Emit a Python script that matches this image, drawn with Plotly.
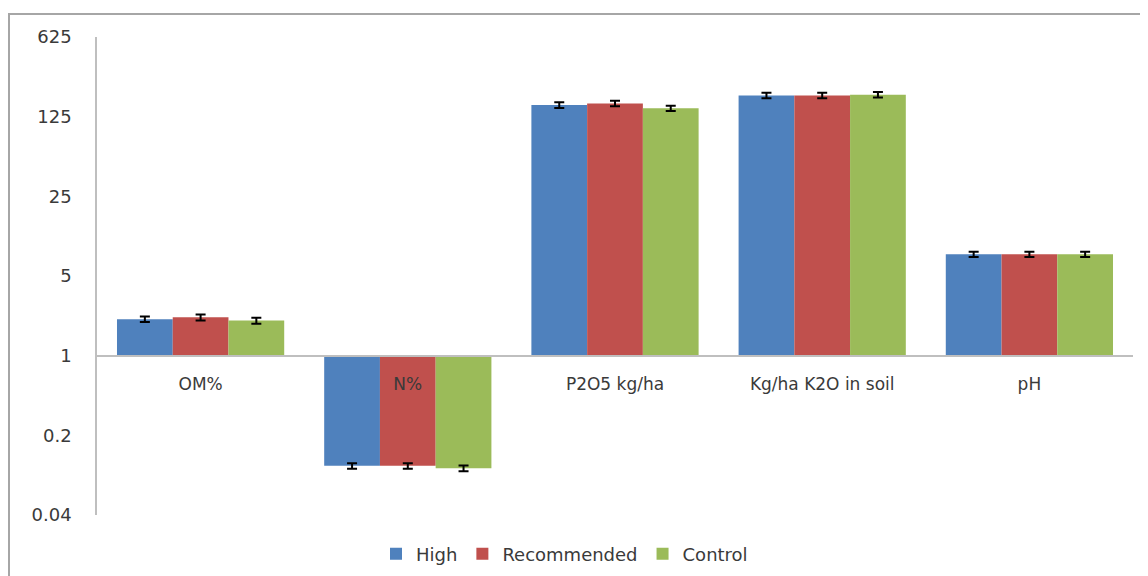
import plotly.graph_objects as go
import math

categories = ["OM%", "N%", "P2O5 kg/ha", "Kg/ha K2O in soil", "pH"]
series_names = ["High", "Recommended", "Control"]
high = [2.09, 0.108, 158, 192, 7.75]
recommended = [2.17, 0.108, 163, 192, 7.75]
control = [2.03, 0.103, 148, 195, 7.75]
high_err = [0.12, 0.006, 9, 11, 0.4]
recommended_err = [0.13, 0.006, 9, 11, 0.4]
control_err = [0.12, 0.006, 8, 11, 0.4]
colors = ["#4f81bd", "#c0504d", "#9bbb59"]
ytick_vals = [0.04, 0.2, 1, 5, 25, 125, 625]
ytick_text = ["0.04", "0.2", "1", "5", "25", "125", "625"]

BASE = 1.0
fig = go.Figure()
for name, vals, errs, col in zip(series_names, [high, recommended, control],
                                 [high_err, recommended_err, control_err], colors):
    fig.add_trace(go.Bar(
        name=name, x=categories, y=[v - BASE for v in vals], base=BASE,
        marker=dict(color=col, line=dict(width=0)),
        error_y=dict(type="data", array=errs, color="black", thickness=2, width=5),
        customdata=vals, hovertemplate="%{x}: %{customdata}<extra>" + name + "</extra>",
    ))

ymin, ymax = math.log10(0.04), math.log10(625)
pos_one = (0 - ymin) / (ymax - ymin)

OFF = 8  # page body margin offset
W, H = 1148, 576
L, R = 97 - OFF, W - (1133 - OFF)
T, B = 37 - OFF, H - (515 - OFF)
pw, ph = W - L - R, H - T - B

def px_to_paper_x(px):
    return (px - OFF - L) / pw

def px_to_paper_y(py):
    return (H - B - (py - OFF)) / ph

fig.update_layout(
    width=W, height=H,
    margin=dict(l=L, r=R, t=T, b=B, pad=0),
    paper_bgcolor="white", plot_bgcolor="white",
    barmode="group", bargap=0.193, bargroupgap=0,
    font=dict(family="DejaVu Sans", color="#3a3a3a"),
    showlegend=True,
    legend=dict(orientation="h", x=px_to_paper_x(376), xanchor="left",
                y=px_to_paper_y(554), yanchor="middle",
                font=dict(size=18, color="#3a3a3a", family="DejaVu Sans"),
                bgcolor="rgba(0,0,0,0)"),
    xaxis=dict(anchor="free", position=pos_one, showline=True, linecolor="#bfbfbf",
               linewidth=1.5, ticks="", showgrid=False, zeroline=False,
               tickfont=dict(size=17, color="#3a3a3a"), ticklabelstandoff=13),
    yaxis=dict(type="log", range=[ymin, ymax], tickvals=ytick_vals, ticktext=ytick_text,
               showline=True, linecolor="#bfbfbf", linewidth=1.5, ticks="",
               showgrid=False, zeroline=False,
               tickfont=dict(size=18, color="#3a3a3a"), ticklabelstandoff=20),
    shapes=[dict(type="rect", xref="paper", yref="paper",
                 x0=px_to_paper_x(9), x1=px_to_paper_x(1170),
                 y0=px_to_paper_y(600), y1=px_to_paper_y(14),
                 line=dict(color="#a6a6a6", width=2), fillcolor="rgba(0,0,0,0)", layer="below")],
)

fig.write_html("out.html")
